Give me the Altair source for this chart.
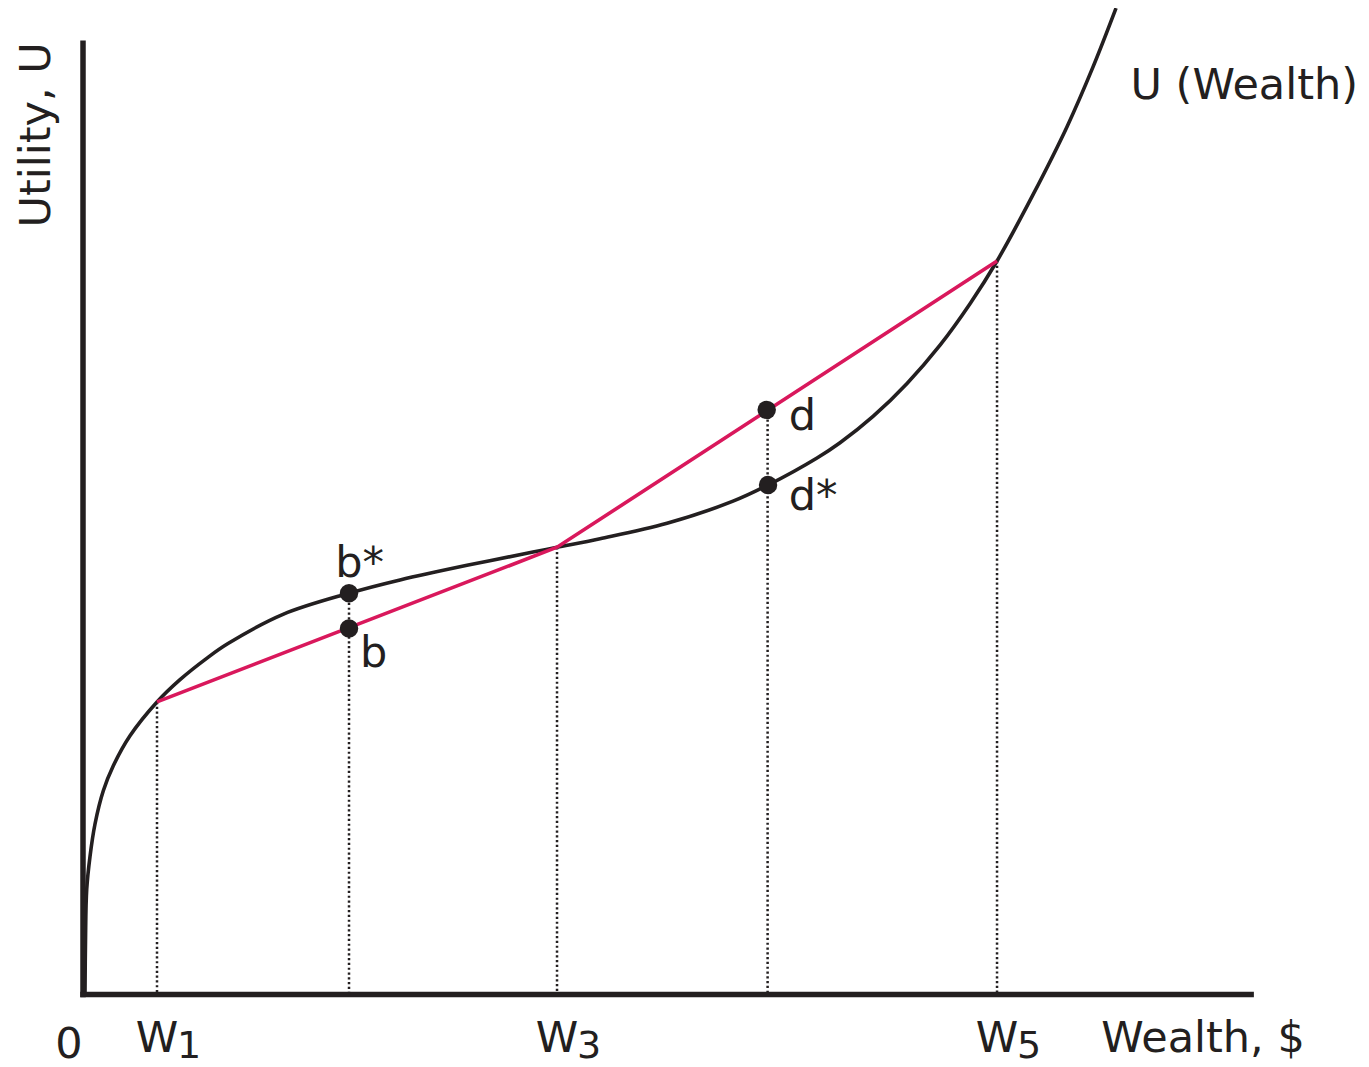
import altair as alt
import pandas as pd

# ---- data (arbitrary units: W5 = 100, U(W5) = 100) ----
curve_x = [0.219, 0.274, 0.405, 0.766, 1.313, 2.221, 3.315, 5.142, 8.096, 10.613,
           13.567, 15.864, 21.882, 29.103, 34.683, 42.013, 49.234, 51.86, 56.565,
           63.895, 71.116, 74.945, 80.306, 82.823, 86.433, 90.153, 93.764, 97.046,
           100.0, 103.939, 107.659, 110.503, 113.02]
curve_y = [0.20, 7.43, 14.31, 18.81, 23.24, 27.77, 31.18, 35.27, 39.88, 42.92,
           45.86, 47.84, 51.82, 54.70, 56.51, 58.51, 60.31, 60.97, 62.14,
           64.24, 67.25, 69.45, 73.14, 75.22, 78.81, 83.31, 88.53, 94.18,
           100.0, 109.04, 118.31, 126.46, 134.47]

chord_x = [8.096, 51.86, 100.0]
chord_y = [39.88, 60.97, 100.0]

drop_x = [8.096, 29.103, 51.86, 74.9, 100.0]
drop_top = [39.88, 54.70, 60.97, 79.7, 100.0]

point_names = ["b*", "b", "d", "d*"]
point_x = [29.103, 29.103, 74.8, 74.945]
point_y = [54.70, 49.9, 79.7, 69.45]
label_x = [27.6, 30.3, 77.2, 77.2]
label_y = [56.9, 44.7, 77.0, 66.05]

tick_main = ["W", "W", "W"]
tick_sub = ["1", "3", "5"]
tick_x = [8.096, 51.86, 100.0]

left_words = ["Wealth, $", "U (Wealth)"]
left_words_x = [111.4, 114.6]
left_words_y = [-7.84, 122.1]

axis_end_x = 127.8
axis_end_y = 129.7

INK = "#231f20"
RED = "#d9185c"
FONT = "DejaVu Sans"
FS = 43

X = alt.Scale(domain=[-8.206, 139.82], nice=False, zero=False)
Y = alt.Scale(domain=[-8.80, 134.49], nice=False, zero=False)


def xe(field="x"):
    return alt.X(f"{field}:Q", scale=X, axis=None)


def ye(field="y"):
    return alt.Y(f"{field}:Q", scale=Y, axis=None)


curve_df = pd.DataFrame({"x": curve_x, "y": curve_y, "o": range(len(curve_x))})
chord_df = pd.DataFrame({"x": chord_x, "y": chord_y, "o": range(len(chord_x))})
drop_df = pd.DataFrame({"x": drop_x, "y": drop_top, "y0": [0.0] * len(drop_x)})
pts_df = pd.DataFrame({"x": point_x, "y": point_y})
lab_df = pd.DataFrame({"x": label_x, "y": label_y, "t": point_names})
tick_df = pd.DataFrame({"x": tick_x, "m": tick_main, "s": tick_sub,
                        "ym": [-7.84] * 3, "ys": [-8.66] * 3})
axes_df = pd.DataFrame({"x": [0.0, 0.0], "y": [0.0, 0.0],
                        "x2": [0.0, axis_end_x], "y2": [axis_end_y, 0.0]})
zero_df = pd.DataFrame({"x": [-1.53], "y": [-8.66], "t": ["0"]})
words_df = pd.DataFrame({"x": left_words_x, "y": left_words_y, "t": left_words})
ylab_df = pd.DataFrame({"x": [-3.61], "y": [117.2], "t": ["Utility, U"]})

axes = alt.Chart(axes_df).mark_rule(color=INK, strokeWidth=5.5, strokeCap="square").encode(
    x=xe(), y=ye(), x2="x2:Q", y2="y2:Q")

drops = alt.Chart(drop_df).mark_rule(color=INK, strokeWidth=2.5, strokeDash=[2.2, 2.6]).encode(
    x=xe(), y=ye(), y2="y0:Q")

curve = alt.Chart(curve_df).mark_line(color=INK, strokeWidth=3.6, interpolate="catmull-rom").encode(
    x=xe(), y=ye(), order="o:Q")

chord = alt.Chart(chord_df).mark_line(color=RED, strokeWidth=3.6).encode(
    x=xe(), y=ye(), order="o:Q")

pts = alt.Chart(pts_df).mark_circle(color=INK, opacity=1, size=340).encode(x=xe(), y=ye())

labs = alt.Chart(lab_df).mark_text(font=FONT, fontSize=FS, color=INK, align="left",
                                   baseline="alphabetic").encode(x=xe(), y=ye(), text="t:N")

tick_w = alt.Chart(tick_df).mark_text(font=FONT, fontSize=FS, color=INK, align="center",
                                      baseline="alphabetic").encode(x=xe(), y=ye("ym"), text="m:N")
tick_s = alt.Chart(tick_df).mark_text(font=FONT, fontSize=38, color=INK, align="left",
                                      baseline="alphabetic", dx=20).encode(x=xe(), y=ye("ys"), text="s:N")

zero = alt.Chart(zero_df).mark_text(font=FONT, fontSize=FS, color=INK, align="center",
                                    baseline="alphabetic").encode(x=xe(), y=ye(), text="t:N")
words = alt.Chart(words_df).mark_text(font=FONT, fontSize=FS, color=INK, align="left",
                                      baseline="alphabetic").encode(x=xe(), y=ye(), text="t:N")

ylab = alt.Chart(ylab_df).mark_text(font=FONT, fontSize=FS, color=INK, angle=270,
                                    align="center", baseline="alphabetic").encode(
    x=xe(), y=ye(), text="t:N")

chart = alt.layer(drops, curve, chord, axes, pts, labs, tick_w, tick_s, zero, words, ylab).properties(
    width=1353, height=1051, padding=0, autosize=alt.AutoSizeParams(type="none"),
    background="white"
).configure_view(stroke=None)

chart.save("out.html", embed_options={"renderer": "svg", "actions": False})
